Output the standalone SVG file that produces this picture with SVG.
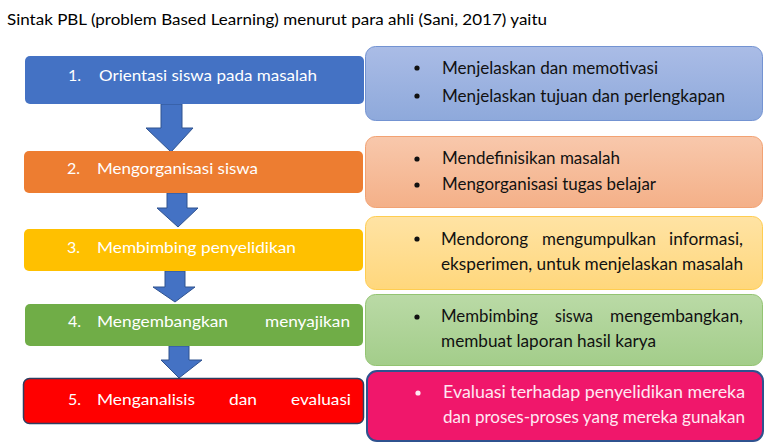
<svg xmlns="http://www.w3.org/2000/svg" width="778" height="443" viewBox="0 0 778 443">
<defs>
<linearGradient id="gBlue" x1="0" y1="0" x2="0" y2="1"><stop offset="0" stop-color="#AABCE6"/><stop offset="1" stop-color="#8EA9DB"/></linearGradient>
<linearGradient id="gOrange" x1="0" y1="0" x2="0" y2="1"><stop offset="0" stop-color="#F8C8AC"/><stop offset="1" stop-color="#F4B088"/></linearGradient>
<linearGradient id="gYellow" x1="0" y1="0" x2="0" y2="1"><stop offset="0" stop-color="#FFE3A4"/><stop offset="1" stop-color="#FFD77C"/></linearGradient>
<linearGradient id="gGreen" x1="0" y1="0" x2="0" y2="1"><stop offset="0" stop-color="#BADAA6"/><stop offset="1" stop-color="#A3CD8A"/></linearGradient>
</defs>
<style>
text{font-family:Lato,"Open Sans","Liberation Sans",sans-serif;}
.title{font-size:16px;fill:#000;}
.lt{font-size:16px;fill:#fff;}
.rt{font-size:17px;fill:#111;}
.pt{font-size:17px;fill:#FFE8F2;}
.arrow{fill:#4472C4;stroke:#2F528F;stroke-width:1;}
</style>
<rect width="778" height="443" fill="#fff"/>
<text class="title" x="7" y="25" textLength="540" lengthAdjust="spacingAndGlyphs">Sintak PBL (problem Based Learning) menurut para ahli (Sani, 2017) yaitu</text>

<g id="connectors">
<polygon class="arrow" points="161,104 182,104 182,128 193,128 171,152 146,128 161,128"/>
<polygon class="arrow" points="167,193 187,193 187,208 198,208 178,227 157,208 167,208"/>
<polygon class="arrow" points="165,271 185,271 185,287 195,287 175,302 153,287 165,287"/>
<polygon class="arrow" points="169,346 189,346 189,360 202,360 179,378 161,360 169,360"/>
</g>

<g id="step1">
<rect x="25" y="56" width="339" height="48" rx="5" fill="#4472C4"/>
<text class="lt" x="68" y="81">1.</text>
<text class="lt" x="99" y="81" textLength="218" lengthAdjust="spacingAndGlyphs">Orientasi siswa pada masalah</text>
</g>
<g id="step2">
<rect x="24" y="151" width="339" height="42" rx="5" fill="#ED7D31"/>
<text class="lt" x="67" y="174">2.</text>
<text class="lt" x="97" y="174" textLength="161" lengthAdjust="spacingAndGlyphs">Mengorganisasi siswa</text>
</g>
<g id="step3">
<rect x="24" y="229" width="339" height="42" rx="5" fill="#FFC000"/>
<text class="lt" x="67" y="253">3.</text>
<text class="lt" x="97" y="253" textLength="199" lengthAdjust="spacingAndGlyphs">Membimbing penyelidikan</text>
</g>
<g id="step4">
<rect x="25" y="304" width="338" height="42" rx="5" fill="#70AD47"/>
<text class="lt" x="68" y="327">4.</text>
<text class="lt" x="97" y="327" textLength="131" lengthAdjust="spacingAndGlyphs">Mengembangkan</text>
<text class="lt" x="265" y="327" textLength="85" lengthAdjust="spacingAndGlyphs">menyajikan</text>
</g>
<g id="step5">
<rect x="23.5" y="378.5" width="340" height="45" rx="6" fill="#FF0000" stroke="#2E3E60" stroke-width="1.5"/>
<text class="lt" x="68" y="405">5.</text>
<text class="lt" x="97" y="405" textLength="98" lengthAdjust="spacingAndGlyphs">Menganalisis</text>
<text class="lt" x="229" y="405" textLength="28" lengthAdjust="spacingAndGlyphs">dan</text>
<text class="lt" x="291" y="405" textLength="60" lengthAdjust="spacingAndGlyphs">evaluasi</text>
</g>

<g id="detail1">
<rect x="365.5" y="46.5" width="397" height="74" rx="10" fill="url(#gBlue)" stroke="#7393D2" stroke-width="1"/>
<circle cx="417" cy="68" r="2.6" fill="#111"/>
<text class="rt" x="442" y="74" textLength="216" lengthAdjust="spacingAndGlyphs">Menjelaskan dan memotivasi</text>
<circle cx="417" cy="96" r="2.6" fill="#111"/>
<text class="rt" x="442" y="102" textLength="283" lengthAdjust="spacingAndGlyphs">Menjelaskan tujuan dan perlengkapan</text>
</g>
<g id="detail2">
<rect x="365.5" y="136.5" width="397" height="71" rx="10" fill="url(#gOrange)" stroke="#F2A273" stroke-width="1"/>
<circle cx="417" cy="159" r="2.6" fill="#111"/>
<text class="rt" x="442" y="164" textLength="178" lengthAdjust="spacingAndGlyphs">Mendefinisikan masalah</text>
<circle cx="417" cy="185" r="2.6" fill="#111"/>
<text class="rt" x="442" y="190" textLength="214" lengthAdjust="spacingAndGlyphs">Mengorganisasi tugas belajar</text>
</g>
<g id="detail3">
<rect x="365.5" y="216.5" width="397" height="73" rx="10" fill="url(#gYellow)" stroke="#FFCD50" stroke-width="1"/>
<circle cx="417" cy="239" r="2.6" fill="#111"/>
<text class="rt" x="441" y="245" textLength="87" lengthAdjust="spacingAndGlyphs">Mendorong</text>
<text class="rt" x="542" y="245" textLength="114" lengthAdjust="spacingAndGlyphs">mengumpulkan</text>
<text class="rt" x="669" y="245" textLength="74" lengthAdjust="spacingAndGlyphs">informasi,</text>
<text class="rt" x="441" y="270" textLength="302" lengthAdjust="spacingAndGlyphs">eksperimen, untuk menjelaskan masalah</text>
</g>
<g id="detail4">
<rect x="365.5" y="294.5" width="397" height="71" rx="10" fill="url(#gGreen)" stroke="#93C472" stroke-width="1"/>
<circle cx="417" cy="317" r="2.6" fill="#111"/>
<text class="rt" x="441" y="322" textLength="97" lengthAdjust="spacingAndGlyphs">Membimbing</text>
<text class="rt" x="555" y="322" textLength="38" lengthAdjust="spacingAndGlyphs">siswa</text>
<text class="rt" x="610" y="322" textLength="133" lengthAdjust="spacingAndGlyphs">mengembangkan,</text>
<text class="rt" x="441" y="347" textLength="215" lengthAdjust="spacingAndGlyphs">membuat laporan hasil karya</text>
</g>
<g id="detail5">
<rect x="367" y="371" width="396" height="70" rx="10" fill="#F0176B" stroke="#2F528F" stroke-width="2"/>
<circle cx="418" cy="393" r="2.6" fill="#FFE8F2"/>
<text class="pt" x="443" y="398" textLength="302" lengthAdjust="spacingAndGlyphs">Evaluasi terhadap penyelidikan mereka</text>
<text class="pt" x="443" y="423" textLength="302" lengthAdjust="spacingAndGlyphs">dan proses-proses yang mereka gunakan</text>
</g>
</svg>
